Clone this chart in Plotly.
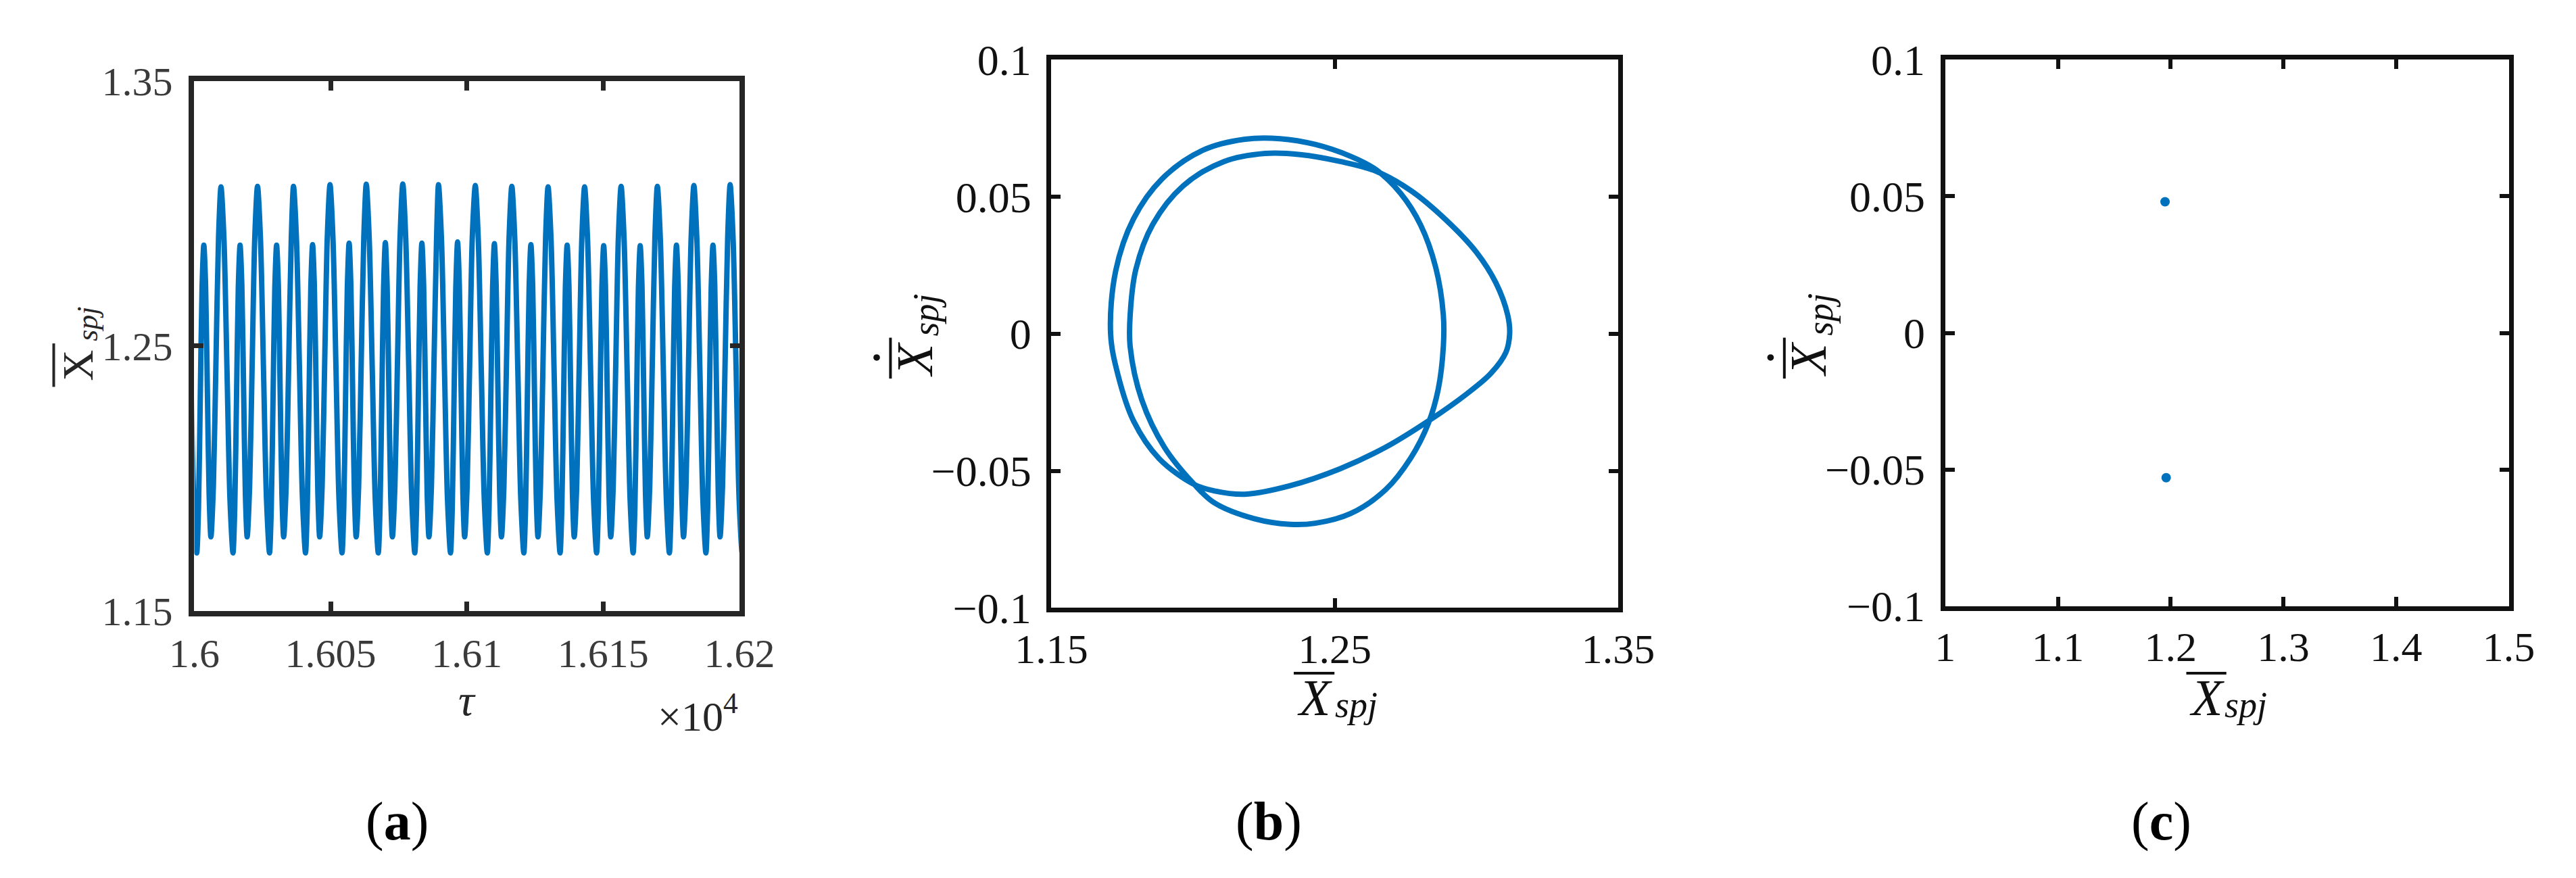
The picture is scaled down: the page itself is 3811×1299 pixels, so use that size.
import plotly.graph_objects as go

W, H = 3811, 1299
BLUE = "#0072BD"
SERIF = "Liberation Serif"

# ---------------- Panel (a): time history of X_spj ----------------
# times of the tall peaks (tau)
cycle_tau = [15996.5, 16009.8, 16023.2, 16036.4, 16049.8, 16063.1, 16076.5, 16089.6,
             16103.1, 16116.5, 16129.8, 16143.2, 16156.6, 16169.9, 16183.3, 16196.6]
# heights of tall and short peaks in each cycle
tall_peak = [1.310, 1.310, 1.3102, 1.3102, 1.3108, 1.311, 1.3111, 1.3108, 1.3105,
             1.3102, 1.310, 1.310, 1.3102, 1.3102, 1.3105, 1.3108]
short_peak = [1.288, 1.288, 1.288, 1.2882, 1.2888, 1.289, 1.2888, 1.2892, 1.2886,
              1.2882, 1.288, 1.2878, 1.2878, 1.288, 1.288, 1.2882]
# shape of one cycle: offset after the tall peak, value
cycle_offset = [0.0, 1.1, 2.2, 3.3, 4.4, 5.05, 5.7, 6.35, 7.0, 7.65, 8.3, 8.95, 9.6,
                10.5, 11.45, 12.4]
cycle_value = ["tall", 1.290, 1.241, 1.192, 1.172, 1.189, 1.2305, 1.272, "short",
               1.2728, 1.2335, 1.194, 1.178, 1.197, 1.244, 1.291]

tau, xa = [], []
for T, tp, sp in zip(cycle_tau, tall_peak, short_peak):
    for off, val in zip(cycle_offset, cycle_value):
        tau.append(T + off)
        xa.append(tp if val == "tall" else sp if val == "short" else val)

a_xticks = [16000, 16050, 16100, 16150, 16200]
a_xticktext = ["1.6", "1.605", "1.61", "1.615", "1.62"]
a_yticks = [1.15, 1.25, 1.35]
a_yticktext = ["1.15", "1.25", "1.35"]

# ---------------- Panel (b): phase portrait ----------------
orbit_x = [1.1709, 1.1727, 1.1790, 1.1890, 1.2035, 1.2183, 1.2307, 1.2431, 1.2555,
           1.2644, 1.2732, 1.2803, 1.2856, 1.2883, 1.2883, 1.2865, 1.2830, 1.2768,
           1.2679, 1.2555, 1.2431, 1.2342, 1.2218, 1.2076, 1.2005, 1.1899, 1.1819,
           1.1778, 1.1778, 1.1798, 1.1858, 1.1965, 1.2108, 1.2254, 1.2378, 1.2519,
           1.2644, 1.2768, 1.2892, 1.2998, 1.3069, 1.3110, 1.3117, 1.3104, 1.3051,
           1.2963, 1.2830, 1.2679, 1.2519, 1.2342, 1.2183, 1.2076, 1.2005, 1.1880,
           1.1790, 1.1735, 1.1709]
orbit_y = [0.0, 0.0230, 0.0420, 0.0565, 0.0670, 0.0710, 0.0712, 0.0691, 0.0648,
           0.0600, 0.0513, 0.0397, 0.0243, 0.0069, -0.0047, -0.0202, -0.0327, -0.0453,
           -0.0569, -0.0656, -0.0691, -0.0695, -0.0675, -0.0617, -0.0550, -0.0414, -0.0241,
           -0.0047, 0.0069, 0.0235, 0.0400, 0.0540, 0.0628, 0.0658, 0.0654, 0.0629,
           0.0594, 0.0523, 0.0416, 0.0300, 0.0185, 0.0069, 0.0, -0.0067, -0.0144,
           -0.0221, -0.0318, -0.0414, -0.0492, -0.0554, -0.0585, -0.0573, -0.0550, -0.0455,
           -0.0318, -0.0150, 0.0]
b_xticks = [1.15, 1.25, 1.35]
b_xticktext = ["1.15", "1.25", "1.35"]
v_ticks = [-0.1, -0.05, 0, 0.05, 0.1]
v_ticktext = ["\u22120.1", "\u22120.05", "0", "0.05", "0.1"]

# ---------------- Panel (c): Poincare section ----------------
poincare_x = [1.195, 1.196]
poincare_y = [0.048, -0.053]
c_xticks = [1.0, 1.1, 1.2, 1.3, 1.4, 1.5]
c_xticktext = ["1", "1.1", "1.2", "1.3", "1.4", "1.5"]


def fx(p):
    return p / W


def fy(p):
    return 1 - p / H


fig = go.Figure()
fig.add_trace(go.Scatter(x=tau, y=xa, mode="lines", xaxis="x", yaxis="y",
                         line=dict(color=BLUE, width=8, shape="spline", smoothing=0.8),
                         showlegend=False, hoverinfo="skip"))
fig.add_trace(go.Scatter(x=orbit_x, y=orbit_y, mode="lines", xaxis="x2", yaxis="y2",
                         line=dict(color=BLUE, width=8, shape="spline", smoothing=1.0),
                         showlegend=False, hoverinfo="skip"))
fig.add_trace(go.Scatter(x=poincare_x, y=poincare_y, mode="markers", xaxis="x3", yaxis="y3",
                         marker=dict(color=BLUE, size=14),
                         showlegend=False, hoverinfo="skip"))


def ax(domain, rng, tv, tt, anchor, color, lw, tfont_color, standoff, fsize):
    return dict(domain=domain, range=rng, tickvals=tv, ticktext=tt, anchor=anchor,
                showline=True, mirror="ticks", linecolor=color, linewidth=lw,
                ticks="inside", ticklen=14, tickwidth=lw - 1, tickcolor=color,
                showgrid=False, zeroline=False, ticklabelstandoff=standoff,
                tickfont=dict(family=SERIF, size=fsize, color=tfont_color))


ca = "#262626"
cb = "#111111"
fig.update_layout(
    width=W, height=H, margin=dict(l=0, r=0, t=0, b=0),
    paper_bgcolor="white", plot_bgcolor="white",
    xaxis=ax([fx(232), fx(1062)], [16000, 16200], a_xticks, a_xticktext, "y", ca, 8, "#3a3a3a", 3, 60),
    yaxis=ax([fy(911), fy(81)], [1.15, 1.35], a_yticks, a_yticktext, "x", ca, 8, "#3a3a3a", 12, 60),
    xaxis2=ax([fx(1537), fx(2400)], [1.15, 1.35], b_xticks, b_xticktext, "y2", cb, 7, cb, 0, 62),
    yaxis2=ax([fy(906), fy(48)], [-0.1, 0.1], v_ticks, v_ticktext, "x2", cb, 7, cb, 10, 64),
    xaxis3=ax([fx(2898), fx(3756)], [1.0, 1.5], c_xticks, c_xticktext, "y3", cb, 7, cb, 0, 62),
    yaxis3=ax([fy(903), fy(48)], [-0.1, 0.1], v_ticks, v_ticktext, "x3", cb, 7, cb, 10, 64),
)


def txt(x, y, text, size, color, angle=0, xanchor="center"):
    return dict(x=fx(x), y=fy(y), text=text, textangle=angle, xanchor=xanchor,
                yanchor="middle", xref="paper", yref="paper", showarrow=False,
                font=dict(family=SERIF, size=size, color=color))


ann = [
    # panel (a)
    txt(55, 526, "X", 64, "#262626", -90),
    txt(70, 462, "<i>spj</i>", 44, "#262626", -90),
    txt(647, 1050, "<i>\u03c4</i>", 66, "#262626"),
    txt(1062, 1070, "\u00d710<sup>4</sup>", 62, "#262626", xanchor="right"),
    txt(541, 1240, "(<b>a</b>)", 80, "black"),
    # panel (b)
    txt(1328, 517, "<i>X</i>", 76, cb, -90),
    txt(1346, 447, "<i>spj</i>", 54, cb, -90),
    txt(1938, 1046, "<i>X</i>", 76, cb),
    txt(2001, 1058, "<i>spj</i>", 54, cb),
    txt(1868, 1240, "(<b>b</b>)", 80, "black"),
    # panel (c)
    txt(2689, 517, "<i>X</i>", 76, cb, -90),
    txt(2707, 447, "<i>spj</i>", 54, cb, -90),
    txt(3296, 1046, "<i>X</i>", 76, cb),
    txt(3356, 1058, "<i>spj</i>", 54, cb),
    txt(3227, 1240, "(<b>c</b>)", 80, "black"),
]
fig.update_layout(annotations=ann)


def bar(x0, y0, x1, y1, color):
    return dict(type="line", xref="paper", yref="paper", x0=fx(x0), y0=fy(y0),
                x1=fx(x1), y1=fy(y1), line=dict(color=color, width=4))


def dot(x, y, color):
    r = 5
    return dict(type="circle", xref="paper", yref="paper", x0=fx(x - r), x1=fx(x + r),
                y0=fy(y + r), y1=fy(y - r), fillcolor=color, line=dict(width=0))


shapes = [
    # overbars of the axis titles
    bar(18, 492, 18, 560, "#262626"),      # (a) y title
    bar(1292, 483, 1292, 547, cb),         # (b) y title
    bar(1906, 1008, 1968, 1008, cb),       # (b) x title
    bar(2653, 483, 2653, 547, cb),         # (c) y title
    bar(3265, 1008, 3326, 1008, cb),       # (c) x title
    # time-derivative dots
    dot(1271, 514, cb),
    dot(2632, 514, cb),
]
fig.update_layout(shapes=shapes)

fig.write_html("out.html")
